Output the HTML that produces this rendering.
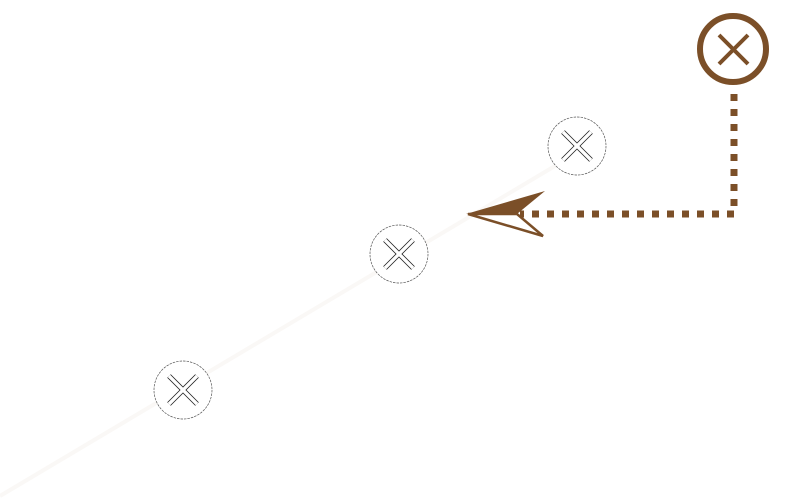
<!DOCTYPE html>
<html><head><meta charset="utf-8"><style>html,body{margin:0;padding:0;background:#fff;width:801px;height:501px;overflow:hidden}</style></head>
<body>
<svg width="801" height="501" viewBox="0 0 801 501" xmlns="http://www.w3.org/2000/svg">
<line x1="0" y1="496" x2="565" y2="160" stroke="#faf8f6" stroke-width="4"/>
<g fill="#fff" stroke="#555" stroke-width="0.7" stroke-dasharray="2.5 1">
<circle cx="577" cy="146" r="29"/>
<circle cx="399" cy="254" r="29"/>
<circle cx="183" cy="390" r="29"/>
</g>
<g fill="none">
<path d="M563 132 L591 160 M591 132 L563 160" stroke-width="5" stroke="#222"/>
<path d="M563 132 L591 160 M591 132 L563 160" stroke-width="3.4" stroke="#fff"/>
<path d="M385 240 L413 268 M413 240 L385 268" stroke-width="5" stroke="#222"/>
<path d="M385 240 L413 268 M413 240 L385 268" stroke-width="3.4" stroke="#fff"/>
<path d="M169 376 L197 404 M197 376 L169 404" stroke-width="5" stroke="#222"/>
<path d="M169 376 L197 404 M197 376 L169 404" stroke-width="3.4" stroke="#fff"/>
</g>
<circle cx="733" cy="49" r="33" fill="#fff" stroke="#7b4f28" stroke-width="6"/>
<path d="M719 35 L748 64 M748 35 L719 64" stroke="#7b4f28" stroke-width="4"/>
<path d="M734 94 L734 214 L520 214" fill="none" stroke="#7b4f28" stroke-width="7" stroke-dasharray="7 8"/>
<path d="M466 214 L545 191 L517 214 Z" fill="#7b4f28"/>
<path d="M468 214 L517 214 L543 236 Z" fill="#fff" stroke="#7b4f28" stroke-width="2.5" stroke-linejoin="miter"/>
</svg>
</body></html>
